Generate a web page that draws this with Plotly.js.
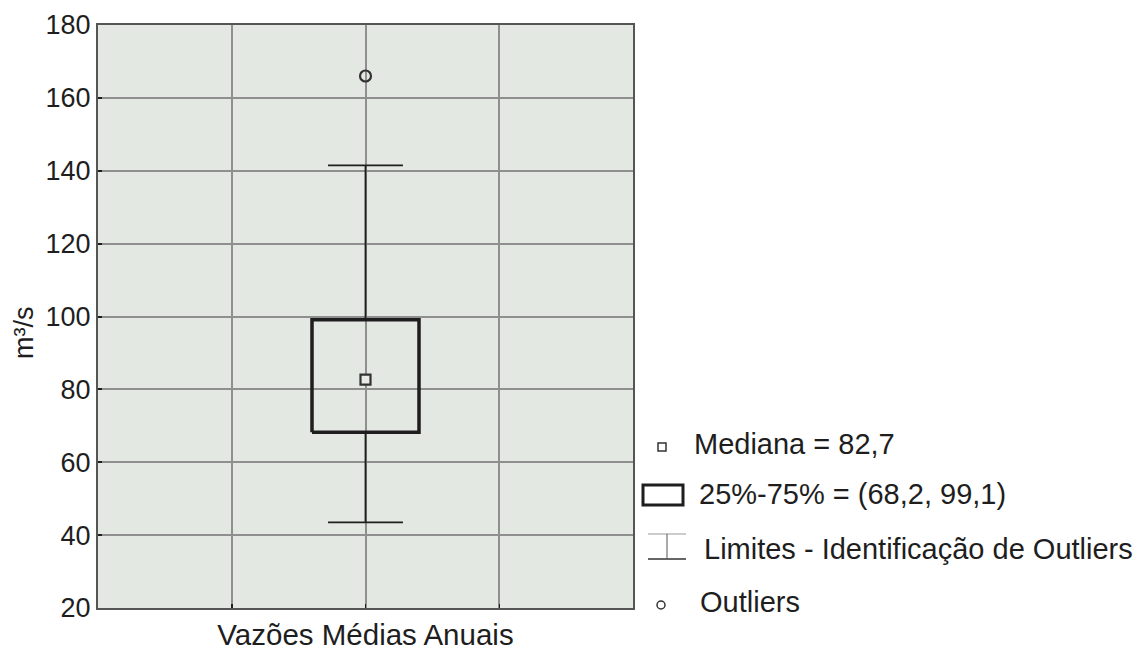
<!DOCTYPE html>
<html>
<head>
<meta charset="utf-8">
<script src="https://cdn.plot.ly/plotly-3.0.1.min.js"></script>
<style>html,body{margin:0;padding:0;background:#fff;}#chart{width:1139px;height:650px;}</style>
</head>
<body>
<div id="chart"></div>
<script>
// ---- data ----
const categories = ['Vazões Médias Anuais'];
const catPos = [0];
const q1 = [68.2];
const medianVals = [82.7];
const q3 = [99.1];
const lowerLimit = [43.5];
const upperLimit = [141.5];
const outlierVals = [166];
const yTicks = [20, 40, 60, 80, 100, 120, 140, 160, 180];
const legendLabels = ['Mediana = 82,7', '25%-75% = (68,2, 99,1)', 'Limites - Identificação de Outliers', 'Outliers'];
const yTitle = 'm³/s';

// ---- styling constants ----
const boxHalf = 0.2, capHalf = 0.14;
const dark = '#1e1e1e';
const FONT = 'Liberation Sans, Arial, sans-serif';

const c = catPos[0];
const boxTrace = {
  type: 'scatter', mode: 'lines', hoverinfo: 'skip', showlegend: false,
  x: [c - boxHalf, c + boxHalf, c + boxHalf, c - boxHalf, c - boxHalf],
  y: [q1[0], q1[0], q3[0], q3[0], q1[0]],
  line: {color: dark, width: 3.5}
};
const whiskerTrace = {
  type: 'scatter', mode: 'lines', hoverinfo: 'skip', showlegend: false,
  x: [c, c, null, c - capHalf, c + capHalf, null, c, c, null, c - capHalf, c + capHalf],
  y: [q3[0], upperLimit[0], null, upperLimit[0], upperLimit[0], null, q1[0], lowerLimit[0], null, lowerLimit[0], lowerLimit[0]],
  line: {color: dark, width: 1.8}
};
const medianTrace = {
  type: 'scatter', mode: 'markers', showlegend: false,
  x: catPos, y: medianVals,
  marker: {symbol: 'square', size: 10, color: '#e8ebe6', line: {color: '#333', width: 2.2}}
};
const outlierTrace = {
  type: 'scatter', mode: 'markers', showlegend: false,
  x: catPos, y: outlierVals,
  marker: {symbol: 'circle', size: 11, color: 'rgba(0,0,0,0)', line: {color: '#333', width: 2.2}}
};

// plot area in pixels
const L = 98, R = 633, T = 25, B = 608;
const px = v => (v - L) / (R - L);
const py = v => (B - v) / (B - T);

const shapes = [
  // median icon
  {type: 'rect', xref: 'paper', yref: 'paper', x0: px(658), x1: px(666), y0: py(451), y1: py(443), line: {color: '#333', width: 1.5}, fillcolor: '#fff'},
  // box icon
  {type: 'rect', xref: 'paper', yref: 'paper', x0: px(643), x1: px(683), y0: py(505), y1: py(485), line: {color: dark, width: 3}, fillcolor: 'rgba(0,0,0,0)'},
  // whisker icon
  {type: 'line', xref: 'paper', yref: 'paper', x0: px(648), x1: px(686), y0: py(534), y1: py(534), line: {color: '#999', width: 1}},
  {type: 'line', xref: 'paper', yref: 'paper', x0: px(648), x1: px(686), y0: py(559), y1: py(559), line: {color: '#333', width: 1.5}},
  {type: 'line', xref: 'paper', yref: 'paper', x0: px(667), x1: px(667), y0: py(534), y1: py(559), line: {color: '#555', width: 1}},
  // outlier icon
  {type: 'circle', xref: 'paper', yref: 'paper', x0: px(657), x1: px(665), y0: py(609), y1: py(601), line: {color: '#333', width: 1.5}, fillcolor: 'rgba(0,0,0,0)'}
];

const legendPos = [[692, 444], [697, 494], [702, 549], [698, 602]];
const annotations = legendLabels.map((t, i) => ({
  xref: 'paper', yref: 'paper', x: px(legendPos[i][0]), y: py(legendPos[i][1]),
  xanchor: 'left', yanchor: 'middle', showarrow: false, text: t,
  font: {family: FONT, size: 29, color: dark}
}));
annotations.push({
  xref: 'paper', yref: 'paper', x: px(24), y: py(333), xanchor: 'center', yanchor: 'middle',
  showarrow: false, text: yTitle, textangle: -90, font: {family: FONT, size: 27, color: dark}
});

const layout = {
  width: 1139, height: 650,
  margin: {l: L, r: 1139 - R, t: T, b: 650 - B, pad: 0},
  paper_bgcolor: '#fff', plot_bgcolor: '#e4e8e3',
  font: {family: FONT, color: dark},
  showlegend: false,
  xaxis: {
    range: [-1, 1], tickvals: [-0.5, 0, 0.5], ticktext: ['', categories[0], ''],
    showgrid: true, gridcolor: '#8f8f8f', gridwidth: 2,
    showline: true, mirror: true, linecolor: '#555', linewidth: 2,
    ticks: 'inside', ticklen: 4, tickwidth: 1.5, tickcolor: dark,
    tickfont: {family: FONT, size: 29.5, color: dark}, zeroline: false, fixedrange: true
  },
  yaxis: {
    range: [20, 180], tickvals: yTicks,
    showgrid: true, gridcolor: '#8f8f8f', gridwidth: 2,
    showline: true, mirror: true, linecolor: '#555', linewidth: 2,
    ticks: 'inside', ticklen: 4, tickwidth: 2, tickcolor: dark,
    tickfont: {family: FONT, size: 27, color: dark}, zeroline: false, fixedrange: true
  },
  shapes: shapes,
  annotations: annotations
};

Plotly.newPlot('chart', [boxTrace, whiskerTrace, medianTrace, outlierTrace], layout, {displayModeBar: false, staticPlot: true});
</script>
</body>
</html>
